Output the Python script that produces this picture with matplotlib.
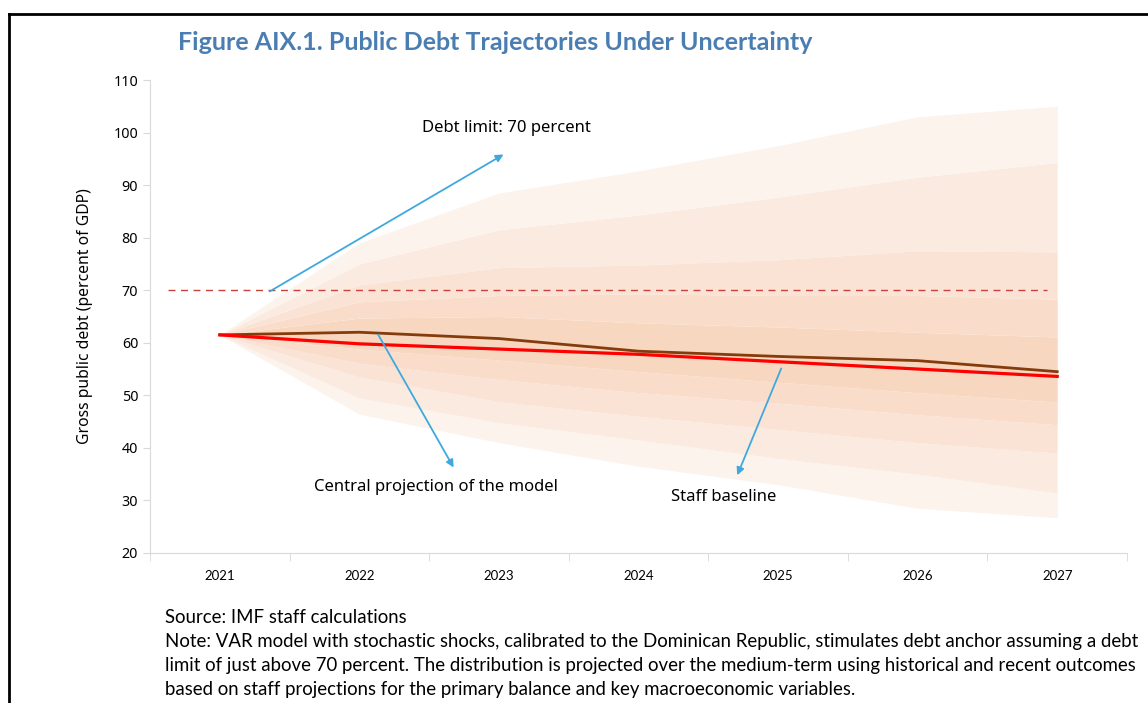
import numpy as np
import matplotlib
matplotlib.use('Agg')
import matplotlib.pyplot as plt
from matplotlib.lines import Line2D

# fan chart data (percent of GDP)
years = ['2021', '2022', '2023', '2024', '2025', '2026', '2027']
p95 = [61.5, 79.0, 88.5, 92.7, 97.5, 103.0, 105.0]
p90 = [61.5, 75.0, 81.5, 84.3, 87.7, 91.5, 94.3]
p80 = [61.5, 71.0, 74.3, 74.8, 75.8, 77.5, 77.3]
p70 = [61.5, 67.8, 69.0, 69.3, 69.0, 69.0, 68.3]
p60 = [61.5, 64.7, 65.0, 63.8, 63.0, 62.0, 61.1]
p40 = [61.5, 58.8, 56.7, 54.5, 52.5, 50.5, 48.7]
p30 = [61.5, 56.1, 53.0, 50.5, 48.5, 46.3, 44.4]
p20 = [61.5, 53.5, 48.8, 46.0, 43.5, 41.0, 39.0]
p10 = [61.5, 49.5, 44.8, 41.5, 38.0, 35.0, 31.4]
p5 = [61.5, 46.4, 41.0, 36.5, 33.0, 28.5, 26.7]

central = [61.5, 62.0, 60.8, 58.4, 57.4, 56.6, 54.5]
baseline = [61.5, 59.8, 58.8, 57.8, 56.4, 55.0, 53.6]
debt_limit = 70

title = 'Figure AIX.1. Public Debt Trajectories Under Uncertainty'
source = 'Source: IMF staff calculations'
note = ['Note: VAR model with stochastic shocks, calibrated to the Dominican Republic, stimulates debt anchor assuming a debt',
        'limit of just above 70 percent. The distribution is projected over the medium-term using historical and recent outcomes',
        'based on staff projections for the primary balance and key macroeconomic variables.']

fig = plt.figure(figsize=(11.48, 7.03), dpi=100)
ax = fig.add_axes([0.1307, 0.2134, 0.851, 0.6728])
x = np.arange(len(years))

# bands from outside in, symmetric shading
bands = [(p5, p10, '#fcf3ec'), (p10, p20, '#fbeae0'), (p20, p30, '#fae3d5'),
         (p30, p40, '#f9ddca'), (p40, p60, '#f8d7c0'), (p60, p70, '#f9ddca'),
         (p70, p80, '#fae3d5'), (p80, p90, '#fbeae0'), (p90, p95, '#fcf3ec')]
for lo, hi, c in bands:
  ax.fill_between(x, lo, hi, color=c, lw=0, zorder=1)

ax.hlines(debt_limit, -0.37, 5.93, colors='#c8413a', linestyles=(0, (5, 4)), lw=1.0, zorder=2)
ax.plot(x, central, color='#843c0c', lw=2.0, zorder=3)
ax.plot(x, baseline, color='#ff0000', lw=2.3, zorder=4)

akw = dict(arrowstyle='-|>', color='#3fa9dd', lw=1.3, mutation_scale=11)
ax.annotate('', xy=(2.05, 96.1), xytext=(0.34, 69.5), arrowprops=akw, zorder=5)
ax.annotate('', xy=(1.685, 35.8), xytext=(1.125, 62.0), arrowprops=akw, zorder=5)
ax.annotate('', xy=(3.70, 34.3), xytext=(4.03, 55.6), arrowprops=akw, zorder=5)

tfont = 'Noto Sans'
ax.text(1.448, 100.9, 'Debt limit: 70 percent', fontsize=12, family=tfont, va='center', ha='left')
ax.text(0.675, 32.6, 'Central projection of the model', fontsize=12, family=tfont, va='center', ha='left')
ax.text(3.232, 30.7, 'Staff baseline', fontsize=12, family=tfont, va='center', ha='left')

ax.set_xlim(-0.5, 6.5)
ax.set_ylim(20, 110)
ax.set_yticks(np.arange(20, 111, 10))
ax.set_xticks(x)
ax.set_xticklabels(years, family='Lato', fontsize=9.5)
ax.set_xticks(np.arange(-0.5, 7, 1), minor=True)
ax.tick_params(axis='x', which='major', length=0, pad=12)
ax.tick_params(axis='x', which='minor', length=6, color='#d9d9d9')
ax.tick_params(axis='y', length=5, color='#d9d9d9', labelsize=10.3)
for lab in ax.get_yticklabels():
  lab.set_family(tfont)
for s in ['top', 'right']:
  ax.spines[s].set_visible(False)
for s in ['left', 'bottom']:
  ax.spines[s].set_color('#d9d9d9')
ax.set_ylabel('Gross public debt (percent of GDP)', family=tfont, fontsize=11.3, labelpad=15)

fig.text(0.155, 0.940, title, family='Lato', fontweight='bold', fontsize=18, color='#4a7eb2', va='center')
fig.text(0.1437, 0.122, source, family='Lato', fontsize=13.4, va='center')
for i, line in enumerate(note):
  fig.text(0.1437, 0.0868 - i * 0.0341, line, family='Lato', fontsize=13.4, va='center')

# frame around the figure (left and top edges)
fig.add_artist(Line2D([0.008, 0.008], [0, 0.980], color='k', lw=2, transform=fig.transFigure))
fig.add_artist(Line2D([0.008, 1.0], [0.980, 0.980], color='k', lw=2, transform=fig.transFigure))

fig.savefig('out.png', dpi=100)
